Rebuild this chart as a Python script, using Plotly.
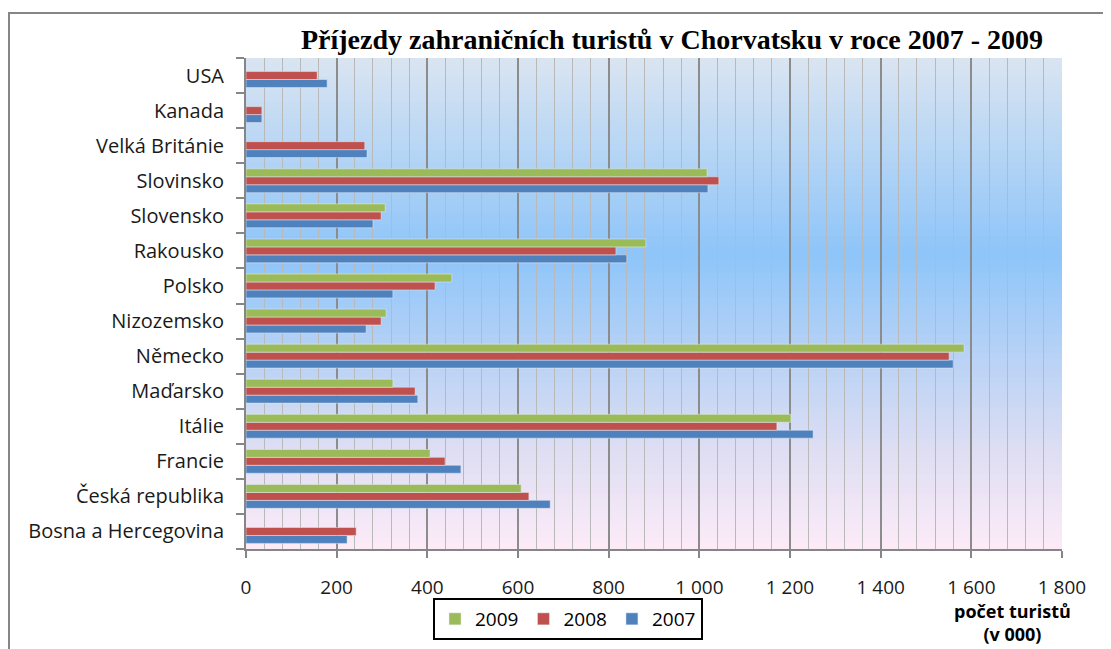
import plotly.graph_objects as go

categories = ["Bosna a Hercegovina", "Česká republika", "Francie", "Itálie", "Maďarsko",
              "Německo", "Nizozemsko", "Polsko", "Rakousko", "Slovensko", "Slovinsko",
              "Velká Británie", "Kanada", "USA"]
v2007 = [223, 671, 474, 1251, 379, 1560, 265, 324, 840, 280, 1019, 267, 35, 179]
v2008 = [243, 624, 439, 1171, 373, 1551, 298, 417, 816, 298, 1043, 262, 35, 157]
v2009 = [None, 607, 406, 1202, 324, 1584, 309, 454, 882, 307, 1017, None, None, None]
tick_vals = [0, 200, 400, 600, 800, 1000, 1200, 1400, 1600, 1800]
tick_text = ["0", "200", "400", "600", "800", "1 000", "1 200", "1 400", "1 600", "1 800"]

title = "Příjezdy zahraničních turistů v Chorvatsku v roce 2007 - 2009"
axis_title = "<b>počet turistů<br>(v 000)</b>"

# plot area in figure pixels
L, R, T, B = 238, 1054, 50, 541
PW, PH = R - L, B - T
def px(x):
    return (x - L) / PW
def py(y):
    return (B - y) / PH

fig = go.Figure()
fig.add_trace(go.Bar(y=categories, x=v2007, name="2007", orientation="h", marker_color="#4f81bd"))
fig.add_trace(go.Bar(y=categories, x=v2008, name="2008", orientation="h", marker_color="#c0504d"))
fig.add_trace(go.Bar(y=categories, x=v2009, name="2009", orientation="h", marker_color="#9bbb59"))

# gradient background
stops = [(0.0, (218, 228, 241)), (0.4, (142, 197, 249)), (0.8, (222, 222, 243)), (1.0, (253, 235, 247))]
def col(t):
    for (a, ca), (b, cb) in zip(stops[:-1], stops[1:]):
        if a <= t <= b:
            f = (t - a) / (b - a)
            return "rgb(%d,%d,%d)" % tuple(round(ca[i] + f * (cb[i] - ca[i])) for i in range(3))
    return "rgb(%d,%d,%d)" % stops[-1][1]

shapes = []
N = 80
for i in range(N):
    t = (i + 0.5) / N
    shapes.append(dict(type="rect", xref="x domain", yref="y domain",
                       x0=0, x1=1, y0=1 - (i + 1) / N - 0.002, y1=1 - i / N,
                       fillcolor=col(t), line_width=0, layer="below"))
# outer chart border
shapes.append(dict(type="rect", xref="paper", yref="paper",
                   x0=px(1), x1=px(1125), y0=py(670), y1=py(5),
                   line=dict(color="#868686", width=2), fillcolor="rgba(0,0,0,0)", layer="below"))

fig.update_layout(
    width=1111, height=649,
    margin=dict(l=L, r=1111 - R, t=T, b=649 - B, autoexpand=False),
    paper_bgcolor="white", plot_bgcolor="rgba(0,0,0,0)",
    barmode="group", bargap=0.32, bargroupgap=0,
    shapes=shapes,
    title=dict(text="<b>" + title + "</b>", x=664 / 1111, xanchor="center", y=1 - 31 / 649, yanchor="middle",
               font=dict(family="Liberation Serif", size=28, color="black")),
    showlegend=True,
    legend=dict(orientation="h", traceorder="reversed", x=px(425), xanchor="left",
                y=py(590), yanchor="top", bordercolor="black", borderwidth=2,
                bgcolor="white", font=dict(family="Open Sans", size=19, color="black")),
    annotations=[dict(text=axis_title, xref="paper", yref="paper", x=px(1004),
                      y=py(614), showarrow=False, xanchor="center", yanchor="middle",
                      font=dict(family="Open Sans", size=18, color="black"))],
)
fig.update_xaxes(range=[0, 1800], tickvals=tick_vals, ticktext=tick_text, automargin=False,
                 showgrid=True, gridcolor="#8c8c8c", gridwidth=1.5,
                 minor=dict(dtick=40, tick0=0, showgrid=True, gridcolor="#b9b9b9", gridwidth=1),
                 ticks="outside", ticklen=7, tickcolor="#868686", tickwidth=1.5,
                 showline=True, linecolor="#868686", linewidth=1.5,
                 ticklabelstandoff=13, zeroline=False,
                 tickfont=dict(family="Open Sans", size=19, color="#1a1a1a"), fixedrange=True)
fig.update_yaxes(type="category", tickson="boundaries", ticks="outside", ticklen=8, automargin=False,
                 tickcolor="#868686", tickwidth=1.5, showline=True, linecolor="#868686",
                 linewidth=2, showgrid=False, ticklabelstandoff=16,
                 tickfont=dict(family="Open Sans", size=20, color="#1a1a1a"), fixedrange=True)

fig.write_html("out.html")
